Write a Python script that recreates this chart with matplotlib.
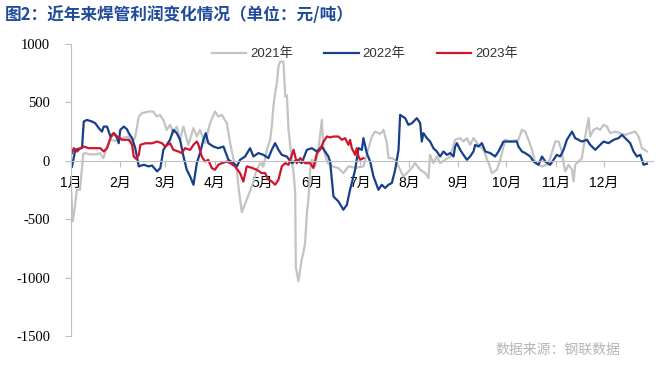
import matplotlib
matplotlib.use("Agg")
import matplotlib.pyplot as plt

plt.rcParams['font.family'] = ['Liberation Sans', 'Noto Sans CJK SC']
plt.rcParams['axes.unicode_minus'] = False

# 横轴：一年中的天数（1月1日 = 0），纵轴：利润 元/吨
month_days = [0, 31, 59, 90, 120, 151, 181, 212, 243, 273, 304, 334]
month_labels = ['1月', '2月', '3月', '4月', '5月', '6月',
                '7月', '8月', '9月', '10月', '11月', '12月']

days_2021 = [0, 1.1, 2.5, 3.6, 5.6, 7.7, 8.8, 11.9, 16.1, 18.2, 20.3, 22.6,
             24.5, 27.6, 30.7, 36.2, 38.3, 40.2, 42.5, 44.5, 48.7, 51.6,
             53.8, 55.8, 57.9, 60.0, 62.1, 64.2, 66.3, 68.4, 70.5, 73.6,
             76.8, 78.9, 80.9, 84.1, 87.2, 90.3, 92.4, 94.6, 97.7, 99.8,
             101.8, 104.0, 105.0, 107.1, 110.2, 113.4, 116.5, 118.6, 120.7,
             122.8, 124.9, 125.9, 126.9, 128.0, 129.1, 130.1, 131.1, 133.2,
             134.4, 135.4, 136.4, 138.5, 139.6, 140.6, 141.0, 142.6, 144.7,
             145.7, 146.8, 147.9, 148.9, 150.0, 151.0, 153.1, 155.2, 157.3,
             158.4, 161.0, 164.4, 167.7, 170.8, 174.0, 178.2, 183.4, 186.4,
             188.7, 190.7, 193.9, 196.0, 198.1, 199.1, 201.2, 203.3, 206.4,
             208.5, 212.7, 215.8, 219.0, 222.1, 224.2, 225.2, 227.3, 229.4,
             231.5, 234.7, 237.8, 240.9, 244.1, 246.1, 248.3, 250.3, 252.4,
             255.6, 258.7, 261.9, 264.0, 267.1, 269.2, 272.3, 275.4, 280.6,
             282.8, 284.9, 286.9, 289.1, 291.2, 295.4, 299.3, 303.7, 305.8,
             307.9, 308.9, 310.0, 312.1, 314.2, 315.2, 316.2, 320.4, 322.5,
             323.6, 324.6, 325.6, 327.7, 329.8, 331.9, 334.0, 336.1, 338.2,
             341.3, 344.4, 347.6, 350.7, 353.9, 355.9, 358.1, 361.2]
profit_2021 = [-230, -519, -390, -248, -248, 60, 66, 55, 55, 66, 23, 120,
               180, 170, 190, 208, 160, 200, 379, 408, 422, 422,
               379, 393, 350, 265, 308, 237, 293, 180, 293, 137,
               280, 208, 265, 151, 322, 422, 379, 393, 322, 151,
               20, -77, -220, -440, -333, -219, -77, -20, -48,
               94, 180, 293, 464, 578, 664, 806, 849, 849,
               550, 560, 265, 9, -105, -276, -910, -1031, -846,
               -789, -704, -447, -330, -77, 9, -48, 100, 350,
               94, -20, -50, -62, -105, -48, -60, -48, 100,
               208, 250, 230, 265, 150, 23, 23, 9, -77,
               -134, -77, -20, -77, -105, -148, 51, -20, 37,
               -20, 9, 37, 180, 194, 165, 194, 137, 194,
               137, 94, -20, -105, -77, 9, 180, 165, 180,
               265, 250, 180, 94, -20, -48, -30, 165, 165,
               80, -20, -90, -34, -77, -177, -34, 23, 208,
               293, 365, 208, 265, 280, 265, 308, 293, 237,
               250, 237, 222, 237, 250, 208, 108, 80]

days_2022 = [0.6, 2.7, 6.9, 8.0, 10.0, 13.2, 15.2, 17.4, 19.4, 20.5, 22.6,
             24.7, 26.8, 28.9, 29.9, 30.9, 33.1, 35.1, 36.2, 38.3, 40.3,
             42.5, 45.6, 48.7, 50.8, 54.0, 56.0, 57.1, 57.9, 62.1, 64.2,
             66.3, 68.4, 70.5, 72.6, 74.7, 76.8, 78.9, 80.9, 83.0, 84.5,
             86.1, 89.3, 92.4, 95.6, 98.7, 101.8, 104.0, 106.0, 109.2,
             112.3, 114.4, 117.5, 120.7, 123.8, 125.9, 128.0, 130.1, 132.2,
             135.3, 138.5, 141.6, 144.7, 147.9, 151.0, 154.2, 157.3, 161.4,
             162.5, 164.6, 167.7, 170.8, 173.0, 175.0, 178.2, 180.3, 182.4,
             183.4, 185.5, 187.6, 189.7, 192.8, 194.9, 197.0, 199.1, 201.2,
             203.3, 205.4, 206.4, 209.6, 211.6, 213.8, 216.9, 219.0, 220.0,
             221.0, 223.2, 225.2, 227.3, 229.4, 231.5, 233.6, 235.7, 237.8,
             239.9, 240.9, 242.0, 244.1, 246.1, 248.3, 250.3, 252.4, 253.5,
             255.6, 257.7, 259.8, 262.9, 266.0, 268.1, 271.2, 279.6, 280.6,
             282.8, 284.9, 288.0, 290.1, 293.2, 295.4, 297.4, 300.5, 302.6,
             304.7, 306.8, 308.9, 311.0, 314.2, 316.2, 318.3, 320.4, 323.6,
             325.6, 328.8, 330.8, 334.0, 337.1, 340.3, 343.4, 345.5, 347.6,
             350.7, 352.8, 354.9, 357.0, 359.1, 361.2]
profit_2022 = [-50, 95, 110, 336, 350, 336, 322, 280, 250, 293, 293,
               208, 237, 196, 151, 265, 293, 270, 237, 194, 108,
               -48, -34, -48, -40, -91, -62, 25, 94, 180, 265,
               237, 180, 40, -77, -134, -205, -20, 66, 180, 237,
               151, 122, 108, 122, 9, -20, -48, 8, 37,
               108, 37, 66, 51, 23, 94, 151, 94, 51,
               37, -20, 8, -20, 94, 108, 80, 122, 37,
               -6, -305, -348, -419, -376, -248, -77, 108, 94,
               194, 66, -6, -134, -248, -205, -233, -205, -190,
               -77, 94, 393, 365, 308, 322, 365, 322, 165,
               237, 194, 165, 108, 80, 37, 80, 51, 66,
               37, 122, 151, 94, 51, 9, 37, 80, 137,
               122, 151, 80, 66, 37, 80, 165, 165, 122,
               80, 66, 37, -6, -34, 37, -6, -34, 8,
               51, 37, 94, 180, 250, 194, 180, 165, 180,
               137, 94, 122, 165, 151, 180, 194, 222, 194,
               151, 80, 37, 51, -34, -25]

days_2023 = [0.6, 1.7, 3.8, 5.8, 8.0, 11.1, 15.2, 18.4, 20.5, 22.6, 24.7,
             26.8, 28.9, 32.0, 36.2, 38.3, 39.3, 40.8, 42.5, 43.5, 46.6,
             50.8, 54.0, 57.1, 59.0, 62.1, 64.2, 67.3, 69.5, 71.5, 74.7,
             76.8, 78.9, 79.9, 82.0, 84.1, 86.1, 88.3, 90.3, 92.4, 94.6,
             97.7, 99.8, 102.9, 106.0, 108.1, 110.2, 113.4, 116.5, 119.6,
             121.7, 123.8, 125.9, 128.0, 130.1, 132.2, 134.4, 136.4, 139.6,
             141.6, 143.7, 146.8, 150.0, 152.0, 154.2, 156.2, 158.4, 160.5,
             162.5, 164.6, 167.7, 169.8, 171.9, 174.0, 175.0, 176.1, 178.2,
             179.2, 180.3, 181.3, 183.4]
profit_2023 = [66, 108, 80, 108, 122, 108, 108, 108, 80, 108, 194,
               237, 208, 180, 180, 137, 37, 17, 51, 137, 150,
               150, 165, 150, 122, 151, 94, 80, 66, 108, 94,
               137, 165, 137, 37, -6, 8, -62, -77, -34, -20,
               -6, -20, -48, -105, -177, -48, -60, -77, -105,
               -105, -162, -177, -205, -162, -48, -20, -34, 94,
               -20, 23, -20, -20, -62, 66, 94, 165, 208,
               200, 208, 208, 180, 194, 137, 180, 108, 51,
               108, 37, 9, 23]

fig = plt.figure(figsize=(6.6, 3.89), dpi=100)
ax = fig.add_axes([0.1076, 0.1362, 0.8818, 0.7507])

ax.plot(days_2021, profit_2021, color='#c3c3c3', lw=1.6, label='2021年')
ax.plot(days_2022, profit_2022, color='#173f8a', lw=1.6, label='2022年')
ax.plot(days_2023, profit_2023, color='#d0142c', lw=1.6, label='2023年')

ax.set_xlim(0, 365)
ax.set_ylim(-1500, 1000)
ax.set_yticks([-1500, -1000, -500, 0, 500, 1000])
ax.set_yticklabels(['-1500', '-1000', '-500', '0', '500', '1000'],
                   family=['Liberation Serif'], fontsize=10.5)
ax.set_xticks(month_days)
ax.set_xticklabels(month_labels, fontsize=9)

for side in ['top', 'right']:
    ax.spines[side].set_visible(False)
ax.spines['left'].set_color('#bfbfbf')
ax.spines['bottom'].set_color('#bfbfbf')
ax.spines['bottom'].set_position(('data', 0))
ax.tick_params(axis='y', direction='out', length=4, color='#bfbfbf', pad=11)
ax.tick_params(axis='x', direction='out', length=4, color='#bfbfbf', pad=7)

ax.legend(loc='upper center', bbox_to_anchor=(0.505, 1.028), ncol=3,
          frameon=False, fontsize=9.5, handlelength=2.6, columnspacing=2.4,
          handletextpad=0.3, labelcolor='#333333')

fig.text(0.008, 0.961, '图2：近年来焊管利润变化情况（单位：元/吨）',
         fontsize=12, fontweight='bold', color='#1f4b9b', va='center',
         family=['Noto Sans CJK SC'])
fig.text(0.94, 0.10, '数据来源：钢联数据', fontsize=10, color='#b5b5b5',
         ha='right', va='center', family=['Noto Sans CJK SC'])

fig.savefig('out.png', dpi=100)
